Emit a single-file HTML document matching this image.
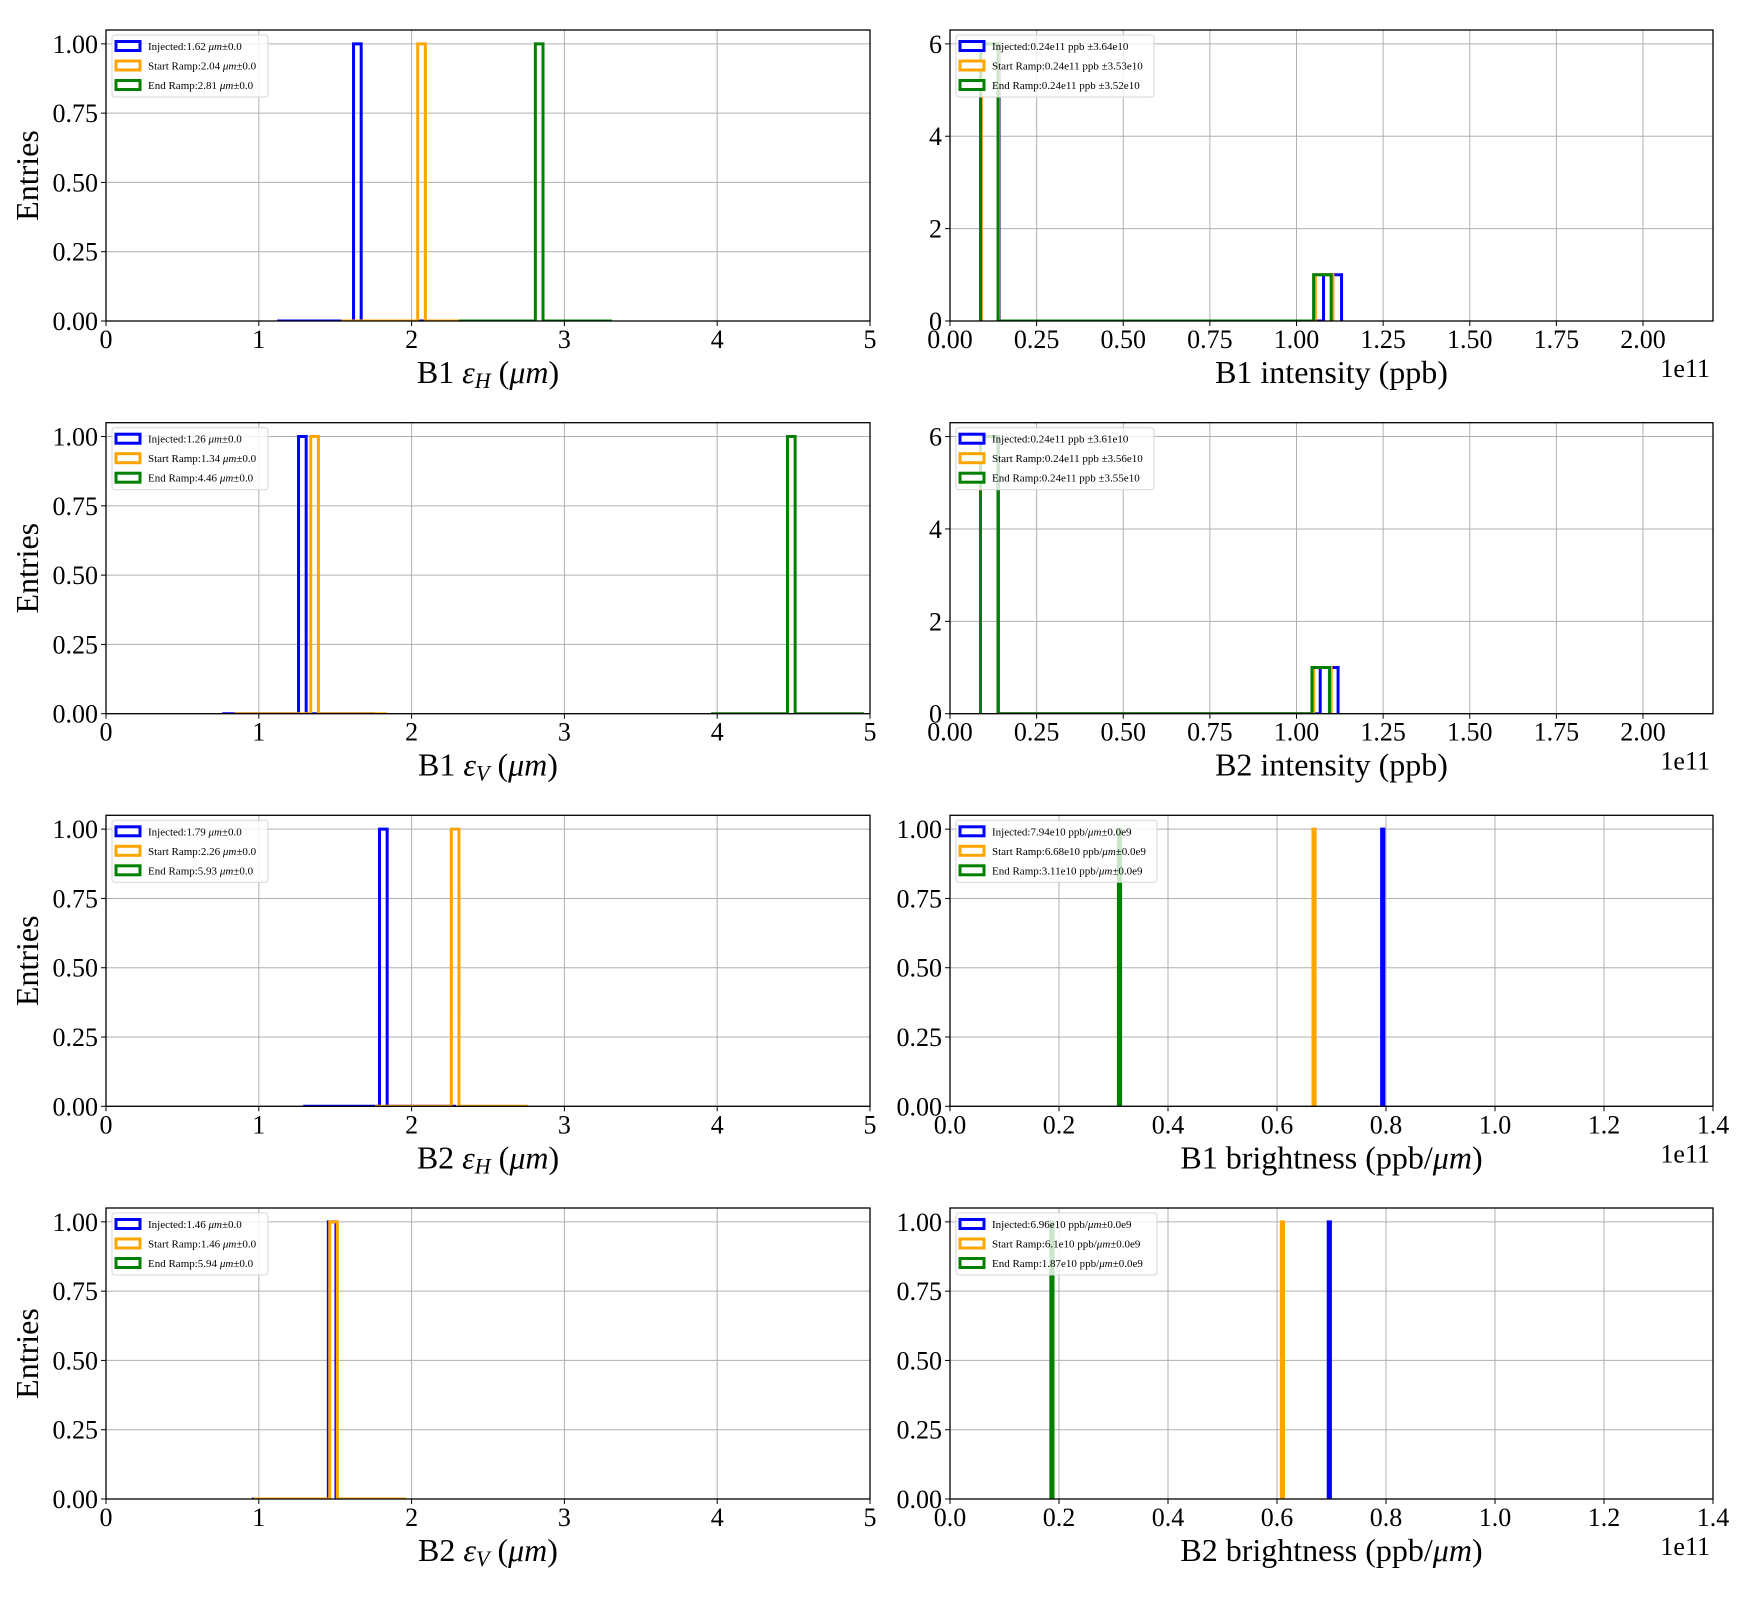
<!DOCTYPE html>
<html><head><meta charset="utf-8">
<style>
html,body{margin:0;padding:0;background:#fff;}
svg{display:block;font-family:"Liberation Serif","Times New Roman",serif;}
</style></head>
<body>
<svg id="fig" width="1760" height="1600" viewBox="0 0 1760 1600" xmlns="http://www.w3.org/2000/svg"></svg>
<script>
// ---- data (values in axis units; intensity/brightness in 1e11) ----
const seriesNames = ["Injected","Start Ramp","End Ramp"];
const seriesColors = ["#0000ff","#ffa500","#008000"];
// emittance panels: single measured value per series (um)
const b1EmitH = [1.62, 2.04, 2.81];
const b1EmitV = [1.26, 1.34, 4.46];
const b2EmitH = [1.79, 2.26, 5.93];
const b2EmitV = [1.455, 1.464, 5.94];
// intensity panels: bunch intensities (1e11 ppb)
const b1IntInjected = [0.09,0.09,0.09,0.09,0.09,0.09,1.13];
const b1IntStart    = [0.09,0.09,0.09,0.09,0.09,0.09,1.105];
const b1IntEnd      = [0.088,0.088,0.088,0.088,0.088,0.088,1.10];
const b2IntInjected = [0.088,0.088,0.088,0.088,0.088,0.088,1.12];
const b2IntStart    = [0.088,0.088,0.088,0.088,0.088,0.088,1.10];
const b2IntEnd      = [0.088,0.088,0.088,0.088,0.088,0.088,1.095];
// brightness (1e11 ppb/um)
const b1Bright = [0.794, 0.668, 0.311];
const b2Bright = [0.696, 0.610, 0.187];
// tick labels
const emitXTicks = ["0","1","2","3","4","5"];
const intXTicks = ["0.00","0.25","0.50","0.75","1.00","1.25","1.50","1.75","2.00"];
const brXTicks = ["0.0","0.2","0.4","0.6","0.8","1.0","1.2","1.4"];
const fracYTicks = ["0.00","0.25","0.50","0.75","1.00"];
const intYTicks = ["0","2","4","6"];
// legend texts
const legB1H = ["1.62","2.04","2.81"], legB1V=["1.26","1.34","4.46"], legB2H=["1.79","2.26","5.93"], legB2V=["1.46","1.46","5.94"];
const legB1I = ["3.64e10","3.53e10","3.52e10"], legB2I=["3.61e10","3.56e10","3.55e10"];
const legB1B = ["7.94e10","6.68e10","3.11e10"], legB2B=["6.96e10","6.1e10","1.87e10"];

const NS="http://www.w3.org/2000/svg";
const svg=document.getElementById('fig');
function mk(tag,attrs,parent){const e=document.createElementNS(NS,tag);for(const k in attrs)e.setAttribute(k,attrs[k]);(parent||svg).appendChild(e);return e;}

function hist(vals,lo,hi,n){const c=new Array(n).fill(0);const w=(hi-lo)/n;vals.forEach(v=>{let i=Math.floor((v-lo)/w);if(i>=n)i=n-1;if(i<0)i=0;c[i]++;});return {lo,w,c};}

let clipId=0;
function panel(o){
  const g=mk('g',{});
  
  
  const L=o.x0,R=o.x1,T=o.y0,B=o.y1;
  const sx=v=>L+(v-o.xmin)/(o.xmax-o.xmin)*(R-L);
  const sy=v=>B-(v-0)/(o.ymax)*(B-T);
  o.xt.forEach((lab)=>{const v=parseFloat(lab);const x=sx(v);
    const gl=mk('line',{x1:x,x2:x,y1:T,y2:B,stroke:'#b0b0b0','stroke-width':1},g);
    
    mk('line',{x1:x,x2:x,y1:B,y2:B+5,stroke:'#000','stroke-width':1},g);
    const t=mk('text',{x:x,y:B+27,'font-size':26,'text-anchor':'middle'},g);t.textContent=lab;
    });
  o.yt.forEach((lab)=>{const v=parseFloat(lab);const y=sy(v);
    const gl=mk('line',{x1:L,x2:R,y1:y,y2:y,stroke:'#b0b0b0','stroke-width':1},g);
    
    mk('line',{x1:L-5,x2:L,y1:y,y2:y,stroke:'#000','stroke-width':1},g);
    const t=mk('text',{x:L-8,y:y+9,'font-size':26,'text-anchor':'end'},g);t.textContent=lab;
    });
  const cid='c'+(clipId++);
  const cp=mk('clipPath',{id:cid},g);mk('rect',{x:L,y:T-2,width:R-L,height:B-T+2},cp);
  const hg=mk('g',{'clip-path':'url(#'+cid+')'},g);
  o.series.forEach((s,i)=>{
    const h=s.hist;let d='M'+sx(h.lo)+','+sy(0);
    h.c.forEach((c,k)=>{const xa=sx(h.lo+k*h.w),xb=sx(h.lo+(k+1)*h.w);d+=' L'+xa+','+sy(c)+' L'+xb+','+sy(c);});
    d+=' L'+sx(h.lo+h.c.length*h.w)+','+sy(0);
    const p=mk('path',{d:d,fill:'none',stroke:seriesColors[i],'stroke-width':3,'stroke-linejoin':'miter'},hg);
    
    
  });
  const fr=mk('rect',{x:L,y:T,width:R-L,height:B-T,fill:'none',stroke:'#000','stroke-width':1.3},g);
  
  const lg=mk('g',{},g);
  
  mk('rect',{x:L+6,y:T+5,width:o.legW,height:62,rx:3,fill:'#fff','fill-opacity':0.8,stroke:'#d6d6d6','stroke-width':1},lg);
  o.leg.forEach((txt,i)=>{const cy=T+16+i*19.5;
    mk('rect',{x:L+10,y:cy-4.5,width:24,height:9,fill:'#fff','fill-opacity':0.8,stroke:seriesColors[i],'stroke-width':3},lg);
    const t=mk('text',{x:L+42,y:cy+4,'font-size':11},lg);
    
    txt.forEach(part=>{const ts=mk('tspan',{},t);if(part.i)ts.setAttribute('font-style','italic');ts.textContent=part.t;});
  });
  const xl=mk('text',{x:(L+R)/2,y:B+62,'font-size':32,'text-anchor':'middle'},g);
  
  o.xlabel.forEach(part=>{const ts=mk('tspan',{},xl);if(part.i)ts.setAttribute('font-style','italic');if(part.sub){ts.setAttribute('font-size',22);ts.setAttribute('dy',5);}if(part.up){ts.setAttribute('dy',-5);}ts.textContent=part.t;});
  if(o.ylabel){const yl=mk('text',{x:0,y:0,'font-size':32,'text-anchor':'middle',transform:'translate(38,'+((T+B)/2)+') rotate(-90)'},g);yl.textContent='Entries';
    }
  if(o.offset){const ot=mk('text',{x:R-3,y:B+56,'font-size':26,'text-anchor':'end'},g);ot.textContent='1e11';
    }
}

const rowTop=[30,422.7,815.3,1208];
const H=291;
function emitSeries(vals){return vals.map(v=>({hist:hist([v],v-0.5,v+0.5,20)}));}
function intSeries(arrs){return arrs.map(a=>{const lo=Math.min(...a),hi=Math.max(...a);return {hist:hist(a,lo,hi,20)};});}
function brSeries(vals){return vals.map(v=>({hist:hist([v],v-0.002,v+0.002,1)}));}
function emitLeg(vs){return vs.map((v,i)=>[{t:seriesNames[i]+':'+v+' '},{t:'μm',i:1},{t:'±0.0'}]);}
function intLeg(es){return es.map((e,i)=>[{t:seriesNames[i]+':0.24e11 ppb ±'+e}]);}
function brLeg(vs){return vs.map((v,i)=>[{t:seriesNames[i]+':'+v+' ppb/'},{t:'μm',i:1},{t:'±0.0e9'}]);}
function emitLabel(b,s){return [{t:b+' '},{t:'ε',i:1},{t:s,i:1,sub:1},{t:' (',up:1},{t:'μm',i:1},{t:')'}];}

const leftCfg={x0:106,x1:870,xmin:0,xmax:5,ymax:1.05,xt:emitXTicks,yt:fracYTicks,legW:156,ylabel:true};
const intCfg={x0:950,x1:1713,xmin:0,xmax:2.202,ymax:6.3,xt:intXTicks,yt:intYTicks,legW:198,offset:true};
const brCfg={x0:950,x1:1713,xmin:0,xmax:1.4,ymax:1.05,xt:brXTicks,yt:fracYTicks,legW:201,offset:true};

panel(Object.assign({},leftCfg,{name:'b1-emit-h-panel',y0:rowTop[0],y1:rowTop[0]+H,series:emitSeries(b1EmitH),leg:emitLeg(legB1H),xlabel:emitLabel('B1','H')}));
panel(Object.assign({},intCfg,{name:'b1-intensity-panel',y0:rowTop[0],y1:rowTop[0]+H,series:intSeries([b1IntInjected,b1IntStart,b1IntEnd]),leg:intLeg(legB1I),xlabel:[{t:'B1 intensity (ppb)'}]}));
panel(Object.assign({},leftCfg,{name:'b1-emit-v-panel',y0:rowTop[1],y1:rowTop[1]+H,series:emitSeries(b1EmitV),leg:emitLeg(legB1V),xlabel:emitLabel('B1','V')}));
panel(Object.assign({},intCfg,{name:'b2-intensity-panel',y0:rowTop[1],y1:rowTop[1]+H,series:intSeries([b2IntInjected,b2IntStart,b2IntEnd]),leg:intLeg(legB2I),xlabel:[{t:'B2 intensity (ppb)'}]}));
panel(Object.assign({},leftCfg,{name:'b2-emit-h-panel',y0:rowTop[2],y1:rowTop[2]+H,series:emitSeries(b2EmitH),leg:emitLeg(legB2H),xlabel:emitLabel('B2','H')}));
panel(Object.assign({},brCfg,{name:'b1-brightness-panel',y0:rowTop[2],y1:rowTop[2]+H,series:brSeries(b1Bright),leg:brLeg(legB1B),xlabel:[{t:'B1 brightness (ppb/'},{t:'μm',i:1},{t:')'}]}));
panel(Object.assign({},leftCfg,{name:'b2-emit-v-panel',y0:rowTop[3],y1:rowTop[3]+H,series:emitSeries(b2EmitV),leg:emitLeg(legB2V),xlabel:emitLabel('B2','V')}));
panel(Object.assign({},brCfg,{name:'b2-brightness-panel',y0:rowTop[3],y1:rowTop[3]+H,series:brSeries(b2Bright),leg:brLeg(legB2B),xlabel:[{t:'B2 brightness (ppb/'},{t:'μm',i:1},{t:')'}]}));
</script>
</body></html>
